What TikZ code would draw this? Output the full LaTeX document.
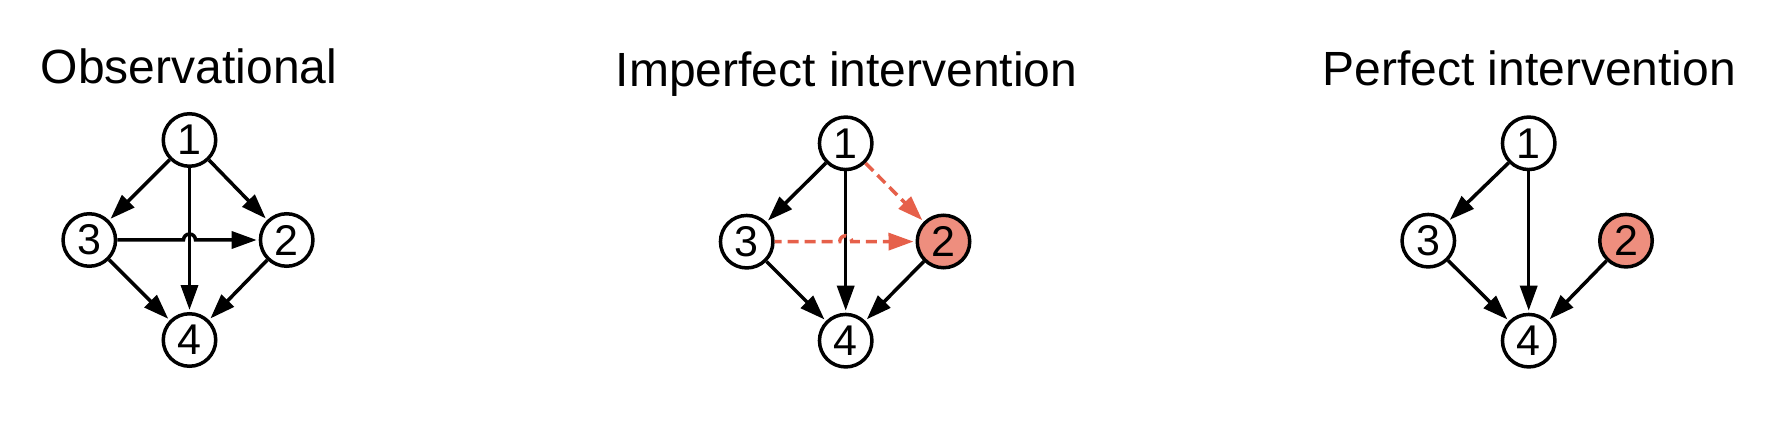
\documentclass[tikz,border=0pt]{standalone}
\usepackage{fontspec}
\setmainfont{Liberation Sans}
\usetikzlibrary{arrows.meta,calc}
\definecolor{nodered}{RGB}{238,142,126}
\definecolor{dashred}{RGB}{230,96,74}
\begin{document}
\begin{tikzpicture}[x=1pt,y=-1pt,
  vert/.style={circle,draw=black,line width=3.5pt,fill=white,minimum size=52.5pt,inner sep=0pt,
    font=\fontsize{43}{43}\selectfont},
  redvert/.style={vert,fill=nodered},
  title/.style={anchor=base,font=\fontsize{48}{58}\selectfont,inner sep=0pt},
  edge/.style={line width=3.5pt,shorten >=2pt,-{Triangle[length=25pt,width=17pt]}},
  dedge/.style={edge,draw=dashred,dash pattern=on 11pt off 6pt,
    -{Triangle[length=25pt,width=17pt,fill=dashred]}}]
\useasboundingbox (0,0) rectangle (1770,422);

% Panel 1
\node[title] (t1) at (189,84) {Observational};
\node[vert] (a1) at (189.5,140) {1};
\node[vert] (a3) at (89.3,240) {3};
\node[vert] (a2) at (286.7,240) {2};
\node[vert] (a4) at (189.5,340) {4};
\draw[edge] (a1) -- (a3);
\draw[edge] (a1) -- (a2);
\draw[edge] (a1) -- (a4);
\draw[edge] (a3) -- ($(a1 |- a3)+(-6,0)$) arc[start angle=180,end angle=360,radius=6] -- (a2);
\draw[edge] (a3) -- (a4);
\draw[edge] (a2) -- (a4);

% Panel 2
\node[title] (t2) at (846.5,86.5) {Imperfect intervention};
\node[vert] (b1) at (845.7,143.3) {1};
\node[vert] (b3) at (746.7,241.7) {3};
\node[redvert] (b2) at (943.5,241.5) {2};
\node[vert] (b4) at (845.7,340.7) {4};
\draw[edge] (b1) -- (b3);
\draw[dedge] (b1) -- (b2);
\draw[edge] (b1) -- (b4);
\draw[dedge,dash phase=4pt] (b3) -- ($(b1 |- b3)+(-6,0)$) arc[start angle=180,end angle=360,radius=6] -- (b2);
\draw[edge] (b3) -- (b4);
\draw[edge] (b2) -- (b4);

% Panel 3
\node[title] (t3) at (1529.2,86) {Perfect intervention};
\node[vert] (c1) at (1528.7,143.3) {1};
\node[vert] (c3) at (1428.3,240.7) {3};
\node[redvert] (c2) at (1626,240.7) {2};
\node[vert] (c4) at (1528.7,340.7) {4};
\draw[edge] (c1) -- (c3);
\draw[edge] (c1) -- (c4);
\draw[edge] (c3) -- (c4);
\draw[edge] (c2) -- (c4);
\end{tikzpicture}
\end{document}
